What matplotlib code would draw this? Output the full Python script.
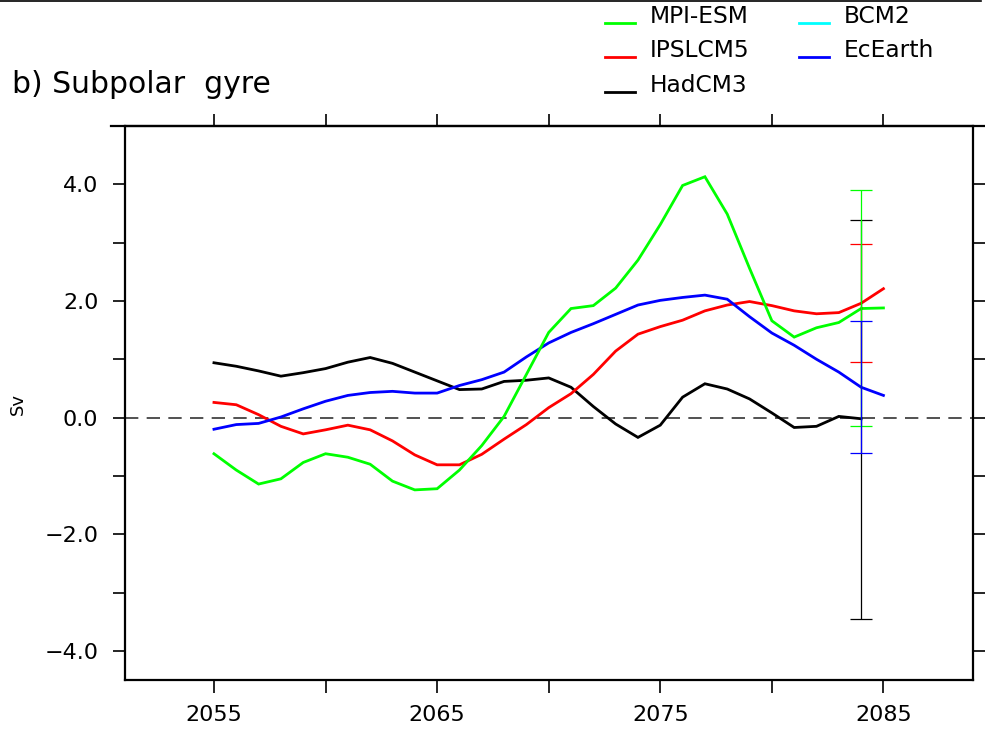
import matplotlib
matplotlib.use("Agg")
import matplotlib.pyplot as plt
from matplotlib.lines import Line2D
from matplotlib.ticker import FixedLocator, FixedFormatter

# ---------------- data ----------------
years = list(range(2055, 2086))

mpi_esm = [-0.62, -0.90, -1.14, -1.05, -0.77, -0.62, -0.68, -0.80, -1.09, -1.24,
           -1.22, -0.90, -0.48, 0.02, 0.74, 1.46, 1.87, 1.92, 2.22, 2.70,
           3.31, 3.98, 4.13, 3.49, 2.56, 1.66, 1.38, 1.54, 1.63, 1.87, 1.88]
ipslcm5 = [0.26, 0.22, 0.05, -0.15, -0.28, -0.21, -0.13, -0.21, -0.40, -0.64,
           -0.81, -0.81, -0.63, -0.37, -0.12, 0.17, 0.41, 0.74, 1.14, 1.43,
           1.56, 1.67, 1.83, 1.93, 1.99, 1.92, 1.83, 1.78, 1.80, 1.96, 2.21]
hadcm3 = [0.94, 0.88, 0.80, 0.71, 0.77, 0.84, 0.95, 1.03, 0.93, 0.78,
          0.63, 0.48, 0.49, 0.62, 0.64, 0.68, 0.52, 0.19, -0.11, -0.34,
          -0.13, 0.35, 0.58, 0.49, 0.32, 0.08, -0.17, -0.15, 0.02, -0.02]
ecearth = [-0.20, -0.12, -0.10, 0.01, 0.15, 0.28, 0.38, 0.43, 0.45, 0.42,
           0.42, 0.55, 0.65, 0.78, 1.04, 1.28, 1.46, 1.61, 1.77, 1.93,
           2.01, 2.06, 2.10, 2.03, 1.73, 1.45, 1.24, 1.00, 0.78, 0.52, 0.38]
bcm2 = []  # listed in legend, no curve visible

series_names = ["MPI-ESM", "IPSLCM5", "HadCM3", "BCM2", "EcEarth"]
series_colors = ["#00ff00", "#ff0000", "#000000", "#00ffff", "#0000ff"]

# spread bars at year 2084 (low, high)
err_year = 2084
err_order = ["HadCM3", "IPSLCM5", "MPI-ESM", "EcEarth"]
err_low = {"MPI-ESM": -0.14, "IPSLCM5": 0.96, "HadCM3": -3.45, "EcEarth": -0.61}
err_high = {"MPI-ESM": 3.91, "IPSLCM5": 2.98, "HadCM3": 3.39, "EcEarth": 1.66}

xticks_major = [2055, 2065, 2075, 2085]
xticks_minor = [2060, 2070, 2080]
yticks_major = [-4, -2, 0, 2, 4]
ytick_labels = ["\u22124.0", "\u22122.0", "0.0", "2.0", "4.0"]
yticks_minor = [-3, -1, 1, 3]

# ---------------- figure ----------------
W, H = 985, 729
fig = plt.figure(figsize=(W / 100, H / 100), dpi=100)
ax = fig.add_axes([124.7 / W, 1 - 680 / H, (972.7 - 124.7) / W, (680 - 126) / H])

color = dict(zip(series_names, series_colors))
data = {"MPI-ESM": mpi_esm, "IPSLCM5": ipslcm5, "HadCM3": hadcm3,
        "BCM2": bcm2, "EcEarth": ecearth}

ax.axhline(0, color="#333333", lw=1.2, ls=(0, (8, 5)), zorder=1)

for name in ["HadCM3", "IPSLCM5", "EcEarth", "MPI-ESM", "BCM2"]:
    vals = data[name]
    if len(vals):
        ax.plot(years[:len(vals)], vals, color=color[name], lw=2.0, zorder=3,
                solid_joinstyle="miter")

for name in err_order:
    lo, hi = err_low[name], err_high[name]
    ax.errorbar([err_year], [(lo + hi) / 2], yerr=[(hi - lo) / 2], fmt="none",
                ecolor=color[name], elinewidth=0.9, capsize=7.9, capthick=0.9,
                zorder=4)

ax.set_xlim(2051, 2089)
ax.set_ylim(-4.5, 5)

ax.xaxis.set_major_locator(FixedLocator(xticks_major))
ax.xaxis.set_minor_locator(FixedLocator(xticks_minor))
ax.yaxis.set_major_locator(FixedLocator(yticks_major))
ax.yaxis.set_major_formatter(FixedFormatter(ytick_labels))
ax.yaxis.set_minor_locator(FixedLocator(yticks_minor))

ax.tick_params(which="both", direction="out", length=9, width=1.2,
               top=True, right=True, labelsize=16, colors="black")
ax.tick_params(axis="x", which="major", pad=9)
ax.tick_params(axis="y", which="major", pad=10)
for s in ax.spines.values():
    s.set_linewidth(1.6)

# y label
fig.text(18 / W, 1 - 404 / H, "Sv", rotation=90, fontsize=13,
         ha="center", va="center")

# title
fig.text(12 / W, 1 - 93 / H, "b) Subpolar  gyre", fontsize=21.5,
         ha="left", va="baseline")

# top border line and top spine extension
fig.add_artist(Line2D([0, 981 / W], [1 - 0.5 / H, 1 - 0.5 / H],
                      color="black", lw=1.2))
fig.add_artist(Line2D([111 / W, 985 / W], [1 - 126 / H, 1 - 126 / H],
                      color="black", lw=1.6))

# legend (manual, two columns)
leg_pos = {"MPI-ESM": (605, 22.7), "IPSLCM5": (605, 57.3), "HadCM3": (605, 91.7),
           "BCM2": (799, 22.7), "EcEarth": (799, 57.3)}
for name in series_names:
    x0, yb = leg_pos[name]
    fig.add_artist(Line2D([x0 / W, (x0 + 30) / W], [1 - yb / H, 1 - yb / H],
                          color=color[name], lw=2.0))
    fig.text((x0 + 45) / W, 1 - yb / H, name, fontsize=16.8,
             ha="left", va="baseline")

fig.savefig("out.png", dpi=100)
